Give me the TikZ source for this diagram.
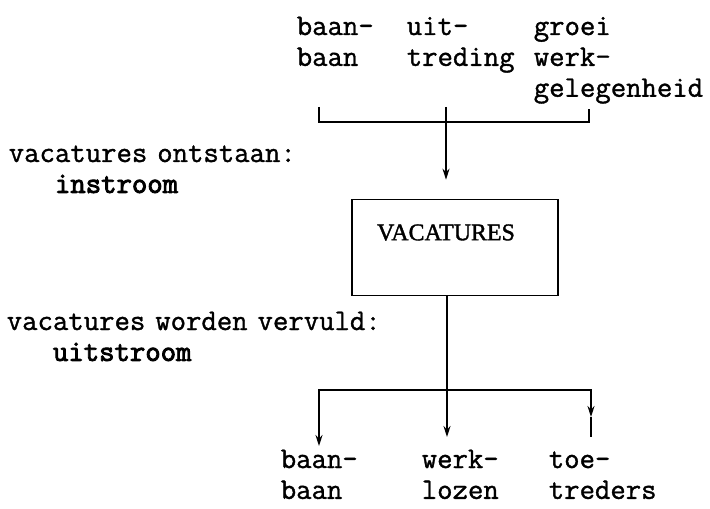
\documentclass[tikz,border=0pt]{standalone}
\usepackage{fontspec}
\usepackage{tikz}
\usetikzlibrary{positioning, arrows.meta}
\newfontfamily\twfont{Latin Modern Mono}[FakeBold=1.2]
\newfontfamily\twboldfont{Latin Modern Mono}[FakeBold=3]
\newfontfamily\vacfont{Liberation Serif}[FakeBold=1.5]
\tikzstyle{lbl}=[inner sep=0pt, anchor=base west, align=left, text width=200bp, font=\twfont\fontsize{30}{31}\selectfont]
\tikzstyle{box}=[draw, minimum width=206bp, minimum height=96bp, inner sep=0pt]
\tikzset{>={Stealth[length=11bp,width=7bp]}}

\begin{document}
\begin{tikzpicture}[x=1bp, y=-1bp, line width=1.6bp]
\useasboundingbox (0,0) rectangle (710,509);
% where the vacancies come from
\node[lbl] (bb) at (296,35) {baan-\\baan};
\node[lbl] (ut) at (406,35) {uit-\\treding};
\node[lbl] (gw) at (533,35) {groei\\werk-\\gelegenheid};
% the remarks on the left
\node[lbl, text width=420bp] (ontst) at (8,162) {vacatures ontstaan:\\\phantom{vac}{\twboldfont instroom}};
\node[lbl, text width=420bp] (vervul) at (6,330) {vacatures worden vervuld:\\\phantom{vac}{\twboldfont uitstroom}};
% the stock
\node[box, label={[xshift=-9bp, yshift=15bp, font=\vacfont\fontsize{24}{28}\selectfont]center:VACATURES}] (vac) at (455,247.5) {};
% where the vacancies go
\node[lbl] (bb2) at (280,468) {baan-\\baan};
\node[lbl] (wl) at (421,468) {werk-\\lozen};
\node[lbl] (tt) at (548,468) {toe-\\treders};
% inflow
\coordinate (inL) at (319,107);
\coordinate (inM) at (446,107);
\coordinate (inR) at (589,109);
\coordinate (inJ) at (446,122);
\draw (inL) |- (inJ) -| (inR);
\draw[->, shorten >=19bp] (inM) -- (inM |- vac.north);
% outflow
\coordinate (outJ) at (447,390);
\coordinate (outL) at (319,446);
\coordinate (outM) at (447,437);
\coordinate (outRa) at (591,417);
\coordinate (outR) at (591,437);
\draw (vac.south -| outJ) -- (outJ);
\draw[->] (outJ) -| (outL);
\draw[->] (outJ) -- (outM);
\draw[->] (outJ) -| (outRa);
\draw (outRa) -- (outR);
\end{tikzpicture}
\end{document}
